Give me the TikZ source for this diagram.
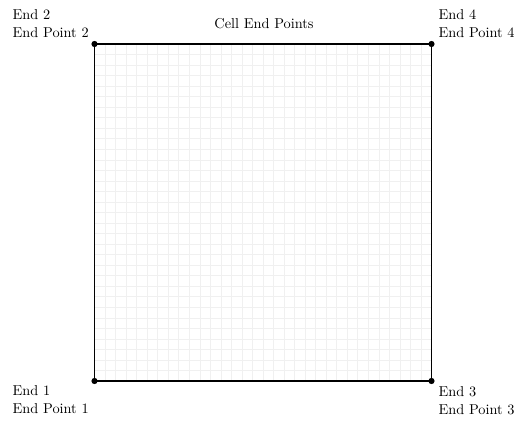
\documentclass[tikz,border=0pt]{standalone}
\usetikzlibrary{calc}
\begin{document}
\begin{tikzpicture}[x=0.698pt,y=-0.698pt,
  gridline/.style={draw=black!6, line width=0.4pt},
  frame/.style={draw=black, line width=0.9pt},
  enddot/.style={circle, fill=black, inner sep=0pt, minimum size=4.3pt},
  endlabel/.style={inner sep=0pt, align=left}]
\useasboundingbox (0,0) rectangle (526,425);
\coordinate (c1) at (94.5,381);
\coordinate (c2) at (94.5,44);
\coordinate (c4) at (431.5,44);
\coordinate (c3) at (431.5,381);
\foreach \i in {1,...,31} {
  \draw[gridline] ($(c1)!\i/32!(c3)$) -- ($(c2)!\i/32!(c4)$);
  \draw[gridline] ($(c1)!\i/32!(c2)$) -- ($(c3)!\i/32!(c4)$);
}
\draw[frame] (c1) -- (c2) -- (c4) -- (c3) -- cycle;
\node[enddot] (d1) at (c1) {};
\node[enddot] (d2) at (c2) {};
\node[enddot] (d3) at (c3) {};
\node[enddot] (d4) at (c4) {};
\node[endlabel, anchor=north east] (l1) at ([shift={(-5.5,4.5)}]c1) {End 1\\[0.6pt]End Point 1};
\node[endlabel, anchor=south east] (l2) at ([shift={(-5.5,-5.8)}]c2) {End 2\\[0.6pt]End Point 2};
\node[endlabel, anchor=north west] (l3) at ([shift={(6.8,5.5)}]c3) {End 3\\[0.6pt]End Point 3};
\node[endlabel, anchor=south west] (l4) at ([shift={(6.8,-6.2)}]c4) {End 4\\[0.6pt]End Point 4};
\node[anchor=base] (title) at (264,28.7) {Cell End Points};
\end{tikzpicture}
\end{document}
